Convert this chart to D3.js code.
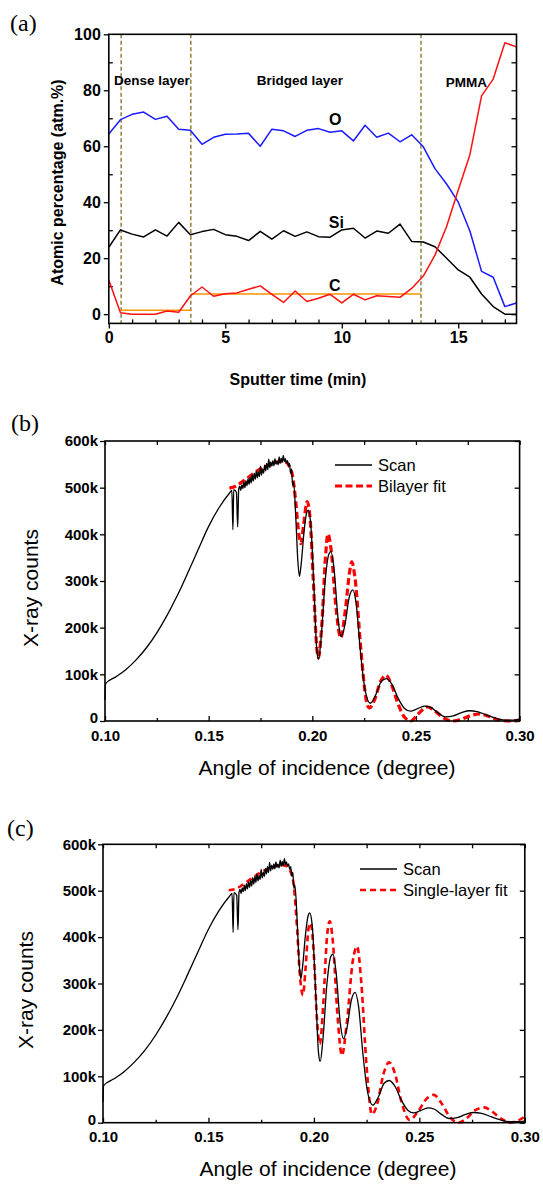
<!DOCTYPE html>
<html>
<head>
<meta charset="utf-8">
<script src="https://cdn.jsdelivr.net/npm/d3@7/dist/d3.min.js"></script>
<style>
body { margin: 0; background: #fff; }
text { font-family: "Liberation Sans", Arial, sans-serif; }
</style>
</head>
<body>
<svg id="chart" width="543" height="1185"></svg>
<script>
// ---- panel (a): depth profile ----
const sputterTime = [0, 0.5, 1, 1.5, 2, 2.5, 3, 3.5, 4, 4.5, 5, 5.5, 6, 6.5, 7, 7.5, 8, 8.5,
    9, 9.5, 10, 10.5, 11, 11.5, 12, 12.5, 13, 13.5, 14, 14.5, 15, 15.5, 16, 16.5, 17, 17.5];
const oxygen = [64.4, 69.5, 71.4, 72.2, 69.6, 70.7, 66.1, 65.7, 60.7, 63.2, 64.3, 64.4, 64.6, 60.0,
    66.1, 65.5, 63.5, 65.7, 66.3, 65.0, 65.5, 61.9, 67.5, 63.2, 64.7, 61.6, 64.1, 59.8,
    52.0, 46.5, 40.0, 29.7, 15.3, 13.2, 2.7, 4.0];
const silicon = [23.9, 30.1, 28.6, 27.6, 30.1, 27.9, 32.8, 28.4, 29.5, 30.3, 28.4, 27.8, 26.3, 29.6,
    26.8, 29.8, 27.8, 29.4, 27.7, 27.5, 30.1, 30.7, 27.2, 29.7, 28.9, 32.2, 26.0, 25.8,
    24.1, 20.0, 15.8, 13.2, 7.2, 2.7, 0, 0];
const carbon = [12.2, 0.5, 0, 0, 0, 1.1, 0.7, 6.5, 9.7, 6.4, 7.3, 7.6, 8.9, 10.1, 7.1, 4.2, 8.3, 4.5,
    5.7, 7.1, 4.0, 7.1, 5.1, 6.6, 6.3, 6.0, 9.2, 13.6, 21.1, 31.3, 44.4, 57.0, 78.0, 84.0, 97.0, 95.5];
const layerBounds = [0.53, 3.52, 13.4];
const carbonMeans = [[0.53, 3.52, 1.4], [3.52, 13.4, 7.2]];
const layerNames = ["Dense layer", "Bridged layer", "PMMA"];
const layerNameAt = [[0.22, 82], [6.35, 82], [14.46, 81.3]];
const elementNames = ["O", "Si", "C"];
const elementNameAt = [[9.72, 67.6], [9.77, 30.7], [9.7, 8.3]];

// ---- panels (b), (c): reflectivity, [angle, counts in k] ----
const scan = [[0.1000, 45], [0.1003, 80], [0.105, 94], [0.110, 110], [0.115, 131], [0.120, 157],
    [0.125, 189], [0.130, 227], [0.135, 270], [0.140, 318], [0.145, 368], [0.150, 417], [0.155, 457],
    [0.1600, 488], [0.1612, 494], [0.1617, 410], [0.1621, 496], [0.1634, 490], [0.1640, 416], [0.1645, 497],
    [0.1650, 503], [0.1655, 494], [0.1660, 506], [0.1665, 498], [0.1670, 512], [0.1675, 500], [0.1680, 515],
    [0.1685, 504], [0.1690, 519], [0.1695, 507], [0.1700, 522], [0.1705, 510], [0.1710, 528], [0.1715, 514],
    [0.1720, 531], [0.1725, 518], [0.1730, 536], [0.1735, 521], [0.1740, 533], [0.1745, 524], [0.1750, 546],
    [0.1755, 527], [0.1760, 540], [0.1765, 531], [0.1770, 548], [0.1775, 536], [0.1780, 552], [0.1785, 539],
    [0.1790, 561], [0.1795, 543], [0.1800, 555], [0.1805, 546], [0.1810, 558], [0.1815, 547], [0.1820, 562],
    [0.1825, 550], [0.1830, 557], [0.1835, 549], [0.1840, 566], [0.1845, 552], [0.1850, 563], [0.1855, 554],
    [0.1860, 569], [0.1865, 556], [0.1870, 562], [0.1875, 553], [0.1880, 558], [0.1885, 546], [0.1890, 552],
    [0.1895, 531], [0.1900, 540], [0.1905, 505], [0.1910, 512], [0.1920, 440], [0.1930, 345], [0.1938, 310],
    [0.1946, 335], [0.1960, 405], [0.1972, 445], [0.1980, 452], [0.1992, 425], [0.2008, 285], [0.2022, 150],
    [0.2030, 132], [0.2042, 175], [0.2062, 300], [0.2080, 358], [0.2090, 363], [0.2105, 325], [0.2125, 215],
    [0.2140, 181], [0.2157, 205], [0.2178, 265], [0.2195, 281], [0.2212, 250], [0.2232, 150], [0.2255, 65],
    [0.2280, 38], [0.2305, 55], [0.2333, 85], [0.2357, 91], [0.2385, 78], [0.2415, 48], [0.2445, 27],
    [0.2474, 21], [0.2505, 26], [0.2541, 32], [0.2572, 29], [0.2605, 18], [0.2641, 9], [0.2680, 11],
    [0.2720, 18], [0.2758, 22], [0.2795, 20], [0.2840, 13], [0.2885, 6], [0.2934, 2], [0.2970, 2], [0.3000, 4]];
const bilayerFit = [[0.1600, 499], [0.163, 503], [0.166, 512], [0.170, 525], [0.175, 540], [0.180, 550],
    [0.184, 556], [0.187, 555], [0.189, 545], [0.1905, 525], [0.192, 470], [0.1935, 400], [0.1945, 380],
    [0.1958, 420], [0.1975, 470], [0.199, 430], [0.2005, 300], [0.2022, 155], [0.2030, 136], [0.2045, 200],
    [0.2065, 360], [0.2075, 401], [0.209, 370], [0.2115, 240], [0.2137, 178], [0.216, 240], [0.218, 320],
    [0.219, 341], [0.2205, 310], [0.2235, 150], [0.226, 45], [0.2275, 28], [0.230, 45], [0.233, 85],
    [0.2355, 98], [0.238, 80], [0.2415, 35], [0.2445, 8], [0.2475, 0], [0.251, 15], [0.2555, 30],
    [0.259, 22], [0.2635, 6], [0.2675, 0], [0.2715, 3], [0.276, 11], [0.2805, 15], [0.285, 10],
    [0.290, 2], [0.295, 0], [0.300, 2]];
const singleFit = [[0.1596, 501], [0.163, 504], [0.166, 512], [0.170, 525], [0.175, 540], [0.180, 550],
    [0.184, 556], [0.187, 553], [0.189, 540], [0.1905, 510], [0.192, 420], [0.1935, 310], [0.1948, 275],
    [0.196, 330], [0.1975, 420], [0.1985, 430], [0.2000, 360], [0.2015, 220], [0.2028, 170], [0.2045, 260],
    [0.2062, 400], [0.2075, 434], [0.209, 390], [0.2112, 230], [0.2133, 145], [0.2155, 210], [0.2185, 350],
    [0.2205, 380], [0.2225, 300], [0.225, 120], [0.2275, 18], [0.230, 40], [0.233, 105], [0.2356, 130],
    [0.2385, 105], [0.2415, 45], [0.2454, 6], [0.2495, 25], [0.2535, 52], [0.2569, 60], [0.2605, 42],
    [0.2645, 12], [0.2685, 0], [0.2725, 10], [0.2765, 27], [0.2807, 33], [0.2845, 24], [0.2890, 8],
    [0.2930, 0], [0.2965, 4], [0.3000, 13]];
const angleTicks = [0.10, 0.15, 0.20, 0.25, 0.30];
const angleMinor = [0.125, 0.175, 0.225, 0.275];
const countTicks = [0, 100, 200, 300, 400, 500, 600];

const svg = d3.select("#chart");
svg.append("rect").attr("width", 543).attr("height", 1185).attr("fill", "#fff");

function axis(transform, gen, fontSize) {
    const g = svg.append("g").attr("transform", transform).call(gen);
    g.select(".domain").remove();
    g.selectAll("line").attr("stroke", "#000").attr("stroke-width", 1.3);
    g.selectAll("text")
        .attr("fill", "#000")
        .style("font-size", fontSize + "px")
        .style("font-weight", "bold");
    return g;
}

function frame(x, y) {
    svg.append("rect")
        .attr("x", x.range()[0]).attr("y", y.range()[1])
        .attr("width", x.range()[1] - x.range()[0])
        .attr("height", y.range()[0] - y.range()[1])
        .attr("fill", "none").attr("stroke", "#000").attr("stroke-width", 1.6);
}

// ================= (a) =================
const xA = d3.scaleLinear().domain([0, 17.5]).range([108.8, 516.5]);
const yA = d3.scaleLinear().domain([-3.3, 100]).range([323.4, 34.3]);

axis(`translate(0,${yA.range()[0]})`, d3.axisBottom(xA).tickValues([0, 5, 10, 15]).tickSize(5).tickPadding(3), 16);
axis(`translate(0,${yA.range()[0]})`, d3.axisBottom(xA).tickValues([1, 2, 3, 4, 6, 7, 8, 9, 11, 12, 13, 14, 16, 17]).tickSize(-4).tickFormat(""), 16);
axis(`translate(${xA.range()[0]},0)`, d3.axisLeft(yA).tickValues([0, 20, 40, 60, 80, 100]).tickSize(5).tickPadding(3), 16);
axis(`translate(${xA.range()[0]},0)`, d3.axisLeft(yA).tickValues([10, 30, 50, 70, 90]).tickSize(-4).tickFormat(""), 16);
axis(`translate(${xA.range()[1]},0)`, d3.axisRight(yA).tickValues([0, 10, 20, 30, 40, 50, 60, 70, 80, 90]).tickSize(-5).tickFormat(""), 16);

// layer boundaries
svg.append("g").selectAll("line")
    .data(layerBounds)
    .join("line")
    .attr("x1", d => xA(d)).attr("x2", d => xA(d))
    .attr("y1", yA(100)).attr("y2", yA.range()[0])
    .attr("stroke", "#9a8748").attr("stroke-width", 1.6).attr("stroke-dasharray", "4,2.5");

// mean carbon per layer
svg.append("g").selectAll("line")
    .data(carbonMeans)
    .join("line")
    .attr("x1", d => xA(d[0])).attr("x2", d => xA(d[1]))
    .attr("y1", d => yA(d[2])).attr("y2", d => yA(d[2]))
    .attr("stroke", "#ff9500").attr("stroke-width", 1.6);

const lineA = d3.line().x(d => xA(d[0])).y(d => yA(d[1]));
const seriesA = [[oxygen, "#1a1aff"], [silicon, "#000"], [carbon, "#ff1010"]];
seriesA.forEach(function (s) {
    svg.append("path")
        .datum(sputterTime.map((t, i) => [t, s[0][i]]))
        .attr("d", lineA)
        .attr("fill", "none")
        .attr("stroke", s[1])
        .attr("stroke-width", 1.5)
        .attr("stroke-linejoin", "round");
});

frame(xA, yA);

svg.append("g").selectAll("text")
    .data(layerNames)
    .join("text")
    .attr("x", (d, i) => xA(layerNameAt[i][0]))
    .attr("y", (d, i) => yA(layerNameAt[i][1]))
    .style("font-size", "13.5px").style("font-weight", "bold")
    .text(d => d);

svg.append("g").selectAll("text")
    .data(elementNames)
    .join("text")
    .attr("x", (d, i) => xA(elementNameAt[i][0]))
    .attr("y", (d, i) => yA(elementNameAt[i][1]))
    .attr("text-anchor", "middle")
    .style("font-size", "16px").style("font-weight", "bold")
    .text(d => d);

svg.append("text")
    .attr("transform", "translate(63,182.5) rotate(-90)")
    .attr("text-anchor", "middle")
    .style("font-size", "16px").style("font-weight", "bold")
    .text("Atomic percentage (atm.%)");
svg.append("text")
    .attr("x", 298).attr("y", 385)
    .attr("text-anchor", "middle")
    .style("font-size", "16px").style("font-weight", "bold")
    .text("Sputter time (min)");
svg.append("text")
    .attr("x", 10).attr("y", 31)
    .style("font-family", "'Liberation Serif', 'Times New Roman', serif")
    .style("font-size", "24px")
    .text("(a)");

// ================= (b), (c) =================
function xrrPanel(opt) {
    const x = d3.scaleLinear().domain([0.10, 0.30]).range(opt.xr);
    const y = d3.scaleLinear().domain([0, 600]).range(opt.yr);
    const fmtK = d => d === 0 ? "0" : d + "k";

    axis(`translate(0,${opt.yr[0]})`, d3.axisBottom(x).tickValues(angleTicks).tickSize(-5).tickPadding(9).tickFormat(d3.format(".2f")), 15);
    axis(`translate(0,${opt.yr[0]})`, d3.axisBottom(x).tickValues(angleMinor).tickSize(-3).tickFormat(""), 15);
    axis(`translate(0,${opt.yr[1]})`, d3.axisTop(x).tickValues(angleTicks.concat(angleMinor)).tickSize(-4).tickFormat(""), 15);
    const left = axis(`translate(${opt.xr[0]},0)`, d3.axisLeft(y).tickValues(countTicks).tickSize(5).tickPadding(2).tickFormat(fmtK), 15);
    // the "0" label sits a little above its tick, clear of "0.10"
    left.selectAll("text").filter(d => d === 0).attr("dy", "0.12em");
    axis(`translate(${opt.xr[1]},0)`, d3.axisRight(y).tickValues(countTicks).tickSize(-5).tickFormat(""), 15);

    const line = d3.line().curve(d3.curveMonotoneX).x(d => x(d[0])).y(d => y(d[1]));
    svg.append("path")
        .datum(opt.fit)
        .attr("d", line)
        .attr("fill", "none")
        .attr("stroke", "#ff0000")
        .attr("stroke-width", opt.fitWidth)
        .attr("stroke-dasharray", opt.fitDash);
    svg.append("path")
        .datum(scan)
        .attr("d", line)
        .attr("fill", "none")
        .attr("stroke", "#000")
        .attr("stroke-width", 1.3);

    frame(x, y);

    // legend
    const lg = svg.append("g").attr("transform", `translate(${opt.legend[0]},${opt.legend[1]})`);
    lg.append("line").attr("x1", 0).attr("x2", 37).attr("y1", 0).attr("y2", 0)
        .attr("stroke", "#000").attr("stroke-width", 1.5);
    lg.append("line").attr("x1", 0).attr("x2", 37).attr("y1", 21).attr("y2", 21)
        .attr("stroke", "#ff0000").attr("stroke-width", opt.fitWidth).attr("stroke-dasharray", opt.fitDash);
    lg.append("text").attr("x", 43).attr("y", 6).style("font-size", "16.5px").text("Scan");
    lg.append("text").attr("x", 43).attr("y", 27).style("font-size", "16.5px").text(opt.fitName);

    svg.append("text")
        .attr("x", opt.xt[0]).attr("y", opt.xt[1])
        .attr("text-anchor", "middle")
        .style("font-size", "21px")
        .text("Angle of incidence (degree)");
    svg.append("text")
        .attr("transform", `translate(${opt.yt[0]},${opt.yt[1]}) rotate(-90)`)
        .attr("text-anchor", "middle")
        .style("font-size", "21px")
        .text("X-ray counts");
    svg.append("text")
        .attr("x", opt.tag[0]).attr("y", opt.tag[1])
        .style("font-family", "'Liberation Serif', 'Times New Roman', serif")
        .style("font-size", "24px")
        .text(opt.label);
}

xrrPanel({
    label: "(b)", tag: [11, 431],
    xr: [105, 519.6], yr: [721, 441],
    fit: bilayerFit, fitName: "Bilayer fit", fitWidth: 3.2, fitDash: "7,3.5",
    legend: [335, 465], xt: [327, 775], yt: [38, 588]
});
xrrPanel({
    label: "(c)", tag: [7, 836],
    xr: [103, 524.8], yr: [1122.7, 844.3],
    fit: singleFit, fitName: "Single-layer fit", fitWidth: 2.6, fitDash: "6,4",
    legend: [360, 869], xt: [328, 1176], yt: [33, 990]
});
</script>
</body>
</html>
